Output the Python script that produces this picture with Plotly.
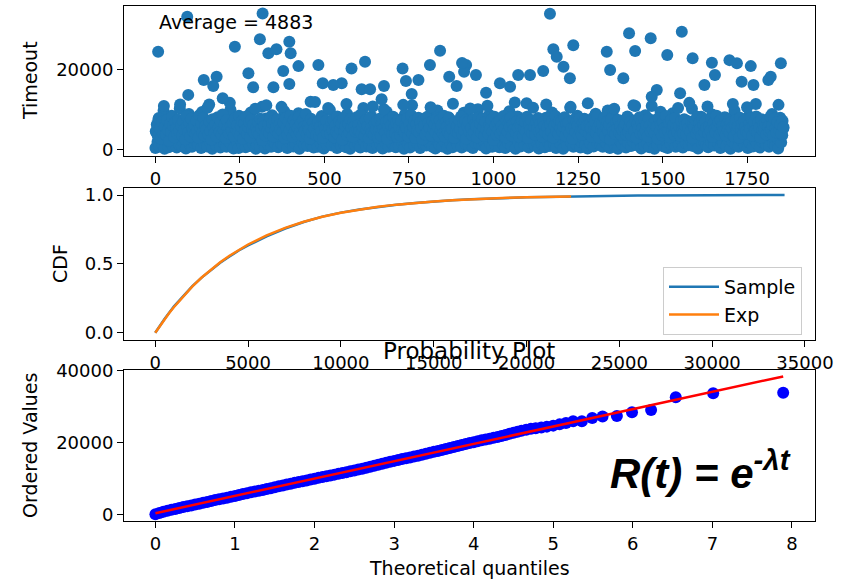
import plotly.graph_objects as go

# ---------------- data ----------------
# Top panel: timeout samples (dense band, in hundreds) at every 3rd index
dense_hundreds = [
    3, 42, 18, 75, 7, 27, 55, 12, 96, 1, 34, 63, 22, 5, 48, 15, 84, 9, 38, 26,
    61, 4, 29, 13, 102, 46, 8, 19, 71, 33, 2, 57, 24, 88, 11, 40, 6, 67, 16, 31,
    21, 79, 10, 52, 36, 3, 93, 25, 14, 44, 68, 7, 30, 112, 17, 50, 1, 39, 23, 58,
    9, 35, 74, 20, 4, 62, 28, 45, 13, 86, 6, 32, 53, 18, 99, 11, 41, 2, 65, 27,
    47, 15, 3, 81, 24, 37, 10, 59, 30, 5, 70, 19, 43, 8, 92, 26, 14, 54, 33, 1,
    12, 64, 22, 7, 49, 106, 17, 34, 2, 77, 28, 11, 56, 40, 6, 85, 21, 31, 15, 60,
    38, 5, 72, 25, 13, 51, 9, 95, 29, 42, 3, 66, 18, 35, 24, 80, 7, 46, 14, 57,
    26, 90, 1, 33, 61, 16, 44, 10, 73, 22, 8, 54, 37, 119, 12, 28, 4, 68, 20, 41,
    6, 48, 31, 14, 83, 23, 2, 63, 36, 11, 52, 19, 98, 27, 9, 39, 71, 15, 45, 3,
    58, 17, 25, 8, 76, 43, 13, 34, 5, 88, 21, 47, 1, 62, 30, 16, 55, 10, 37, 24,
    14, 69, 4, 40, 29, 103, 18, 50, 7, 32, 65, 12, 26, 82, 3, 44, 20, 59, 35, 9,
    53, 22, 11, 78, 2, 36, 47, 15, 94, 28, 6, 60, 19, 41, 13, 74, 31, 5, 50, 25,
    8, 39, 66, 17, 30, 1, 87, 23, 45, 12, 56, 4, 34, 110, 21, 10, 63, 27, 16, 42,
    33, 3, 57, 24, 13, 71, 38, 9, 49, 20, 84, 15, 29, 6, 61, 43, 2, 36, 97, 18,
    11, 46, 28, 7, 64, 19, 35, 54, 1, 80, 26, 14, 40, 5, 70, 32, 22, 51, 10, 37,
    62, 16, 4, 43, 91, 27, 12, 58, 33, 8, 48, 21, 75, 3, 38, 17, 55, 30, 100, 13,
    24, 52, 9, 35, 18, 67, 2, 41, 26, 86, 14, 31, 6, 59, 45, 11, 77, 20, 39, 5,
    44, 19, 72, 12, 29, 3, 53, 37, 15, 95, 23, 8, 65, 32, 47, 1, 27, 82, 16, 56,
    7, 34, 25, 60, 10, 42, 115, 21, 4, 50, 30, 14, 69, 38, 9, 57, 18, 44, 2, 28,
    66, 13, 40, 22, 5, 79, 31, 17, 48, 8, 36, 92, 24, 11, 55, 3, 43, 26, 73, 15,
    30, 54, 1, 37, 63, 20, 9, 46, 28, 104, 16, 33, 6, 61, 41, 12, 84, 23, 50, 4,
    18, 45, 27, 76, 11, 35, 2, 58, 22, 14, 70, 39, 7, 49, 89, 25, 15, 32, 64, 10,
    52, 6, 31, 19, 43, 13, 97, 26, 3, 62, 36, 17, 80, 9, 46, 29, 1, 55, 21, 38,
    12, 68, 24, 40, 4, 57, 15, 33, 75, 8, 51, 20, 44, 108, 27, 10, 35, 61, 18, 2,
    47, 23, 9, 85, 30, 14, 53, 5, 39, 66, 19, 28, 1, 73, 42, 11, 56, 25, 94, 16,
    34, 7, 60, 21, 48, 3, 78, 29, 13, 45, 90, 17, 38, 6, 52, 31, 12, 67, 24, 41,
    4, 55, 26, 15, 71, 36, 10, 49, 22, 101, 8, 32, 63, 18, 43, 2, 58, 27, 81, 14,
    39, 20, 65, 11, 30, 5, 54, 42, 17, 87, 25, 9, 47, 35, 74, 13, 28, 3, 60, 22,
    15, 50, 32, 8, 77, 24, 41, 1, 62, 19, 33, 96, 12, 53, 27, 6, 44, 69, 21, 37,
    58, 10, 29, 46, 3, 83, 16, 36, 55, 7, 40, 23, 113, 14, 51, 30, 4, 64, 19, 45,
    26, 72, 12, 38, 21, 6, 57, 33, 88, 15, 48, 9, 61, 28, 2, 43, 79, 17, 35, 52,
]
# second interleaved set of samples (in hundreds) at indices 1, 4, 7, ...
dense2_hundreds = [
    45, 62, 33, 78, 51, 27, 69, 40, 108, 56, 36, 73, 48, 21, 64, 43, 81, 58, 30, 67,
    52, 39, 74, 46, 112, 60, 35, 70, 49, 25, 83, 57, 41, 66, 32, 76, 53, 44, 61, 38,
    71, 47, 29, 85, 54, 65, 42, 79, 34, 59, 50, 104, 37, 68, 45, 24, 75, 56, 40, 63,
    31, 80, 55, 43, 69, 36, 87, 48, 62, 28, 73, 52, 39, 116, 58, 46, 66, 33, 77, 50,
    60, 42, 84, 35, 57, 71, 26, 64, 47, 82, 38, 55, 68, 30, 74, 49, 61, 41, 101, 53,
    44, 67, 37, 76, 52, 23, 70, 58, 34, 110, 46, 63, 40, 79, 51, 65, 32, 72, 48, 57,
    75, 39, 61, 50, 106, 43, 66, 28, 78, 54, 36, 69, 47, 84, 59, 31, 73, 45, 62, 38,
    53, 81, 42, 65, 34, 72, 56, 46, 88, 37, 60, 49, 27, 76, 41, 67, 52, 118, 35, 63,
    68, 33, 57, 45, 79, 29, 62, 51, 71, 40, 103, 55, 38, 66, 48, 74, 30, 59, 43, 82,
    37, 70, 50, 64, 24, 77, 46, 58, 113, 35, 63, 42, 75, 53, 32, 69, 57, 44, 80, 49,
    61, 45, 86, 39, 56, 67, 33, 73, 48, 59, 28, 78, 52, 41, 107, 36, 65, 50, 71, 30,
    47, 76, 34, 62, 51, 100, 42, 68, 26, 58, 72, 45, 60, 37, 81, 54, 40, 66, 31, 74,
    56, 35, 70, 48, 111, 43, 61, 53, 77, 32, 64, 47, 85, 39, 57, 72, 28, 63, 46, 79,
    42, 68, 52, 25, 74, 59, 37, 80, 45, 66, 54, 105, 34, 70, 49, 61, 41, 76, 55, 33,
    73, 48, 60, 39, 84, 31, 67, 56, 43, 78, 36, 62, 51, 114, 29, 69, 46, 58, 40, 71,
    50, 82, 38, 64, 47, 72, 27, 59, 69, 44, 102, 53, 35, 75, 42, 63, 57, 30, 79, 46,
    65, 41, 77, 55, 33, 68, 49, 109, 38, 61, 52, 74, 44, 23, 81, 58, 36, 67, 48, 71,
    39, 59, 46, 83, 53, 30, 72, 43, 65, 56, 79, 34, 63, 50, 117, 41, 70, 54, 32, 62,
    57, 74, 35, 51, 69, 45, 81, 28, 60, 48, 73, 40, 104, 55, 37, 66, 52, 78, 43, 64,
    49, 31, 68, 58, 42, 112, 54, 36, 76, 62, 45, 71, 29, 59, 83, 47, 64, 38, 72, 53,
    70, 44, 57, 80, 34, 63, 48, 67, 40, 106, 52, 26, 74, 56, 43, 69, 60, 35, 77, 46,
    36, 66, 51, 72, 45, 59, 115, 39, 62, 53, 31, 78, 47, 68, 41, 84, 55, 30, 65, 50,
    63, 42, 79, 33, 56, 70, 46, 61, 25, 75, 54, 44, 101, 38, 67, 52, 73, 41, 58, 36,
    48, 71, 55, 64, 37, 82, 43, 57, 69, 34, 60, 110, 46, 72, 29, 63, 51, 80, 39, 66,
    54, 38, 73, 47, 61, 32, 76, 59, 44, 108, 50, 65, 40, 70, 56, 27, 78, 45, 62, 35,
    68, 52, 41, 83, 57, 46, 66, 30, 74, 49, 60, 37, 79, 53, 43, 103, 58, 33, 71, 47,
    40, 75, 59, 36, 64, 51, 116, 44, 69, 28, 62, 55, 73, 39, 81, 48, 66, 52, 34, 77,
    61, 43, 70, 54, 107, 38, 58, 47, 76, 31, 65, 50, 42, 84, 56, 68, 36, 73, 45, 59,
    46, 80, 35, 62, 49, 72, 41, 67, 53, 113, 33, 60, 74, 44, 57, 29, 79, 51, 64, 38,
    72, 55, 45, 105, 39, 63, 52, 78, 34, 58, 69, 47, 82, 41, 66, 54, 30, 75, 49, 61,
    51, 64, 37, 73, 56, 44, 81, 48, 60, 35, 77, 53, 42, 68, 111, 46, 62, 39, 71, 55,
]
dense_index = list(range(0, 3 * len(dense_hundreds), 3))
dense2_index = list(range(1, 3 * len(dense2_hundreds), 3))
dense_values = [v * 100 for v in dense_hundreds]
dense2_values = [v * 100 for v in dense2_hundreds]

outlier_index = [94, 317, 8, 235, 309, 334, 358, 396, 400, 423,
                 378, 275, 289, 349, 396, 482, 495, 580, 620, 551,
                 526, 610, 635, 676, 143, 181, 171, 97, 199, 731,
                 741, 778, 812, 842, 869, 891, 919, 913, 948, 758,
                 669, 907, 978, 1019, 1073, 1108, 1147, 1167, 1177, 1187,
                 1207, 1236, 1226, 1335, 1345, 1384, 1401, 1419, 1465, 1514,
                 1557, 1589, 1646, 1655, 1698, 1720, 1761, 1820, 1850, 1734,
                 1769, 1813, 1624, 1552, 1483, 1468, 1049]
outlier_values = [33150, 34000, 24400, 25650, 27500, 24000, 25000, 26900, 24000, 20800,
                  19600, 19000, 15500, 15500, 16300, 21100, 16500, 20200, 21900, 16500,
                  16100, 15000, 15000, 15800, 17300, 18150, 15800, 13600, 12750, 20200,
                  17100, 17300, 21100, 24650, 18150, 15800, 21100, 19400, 18600, 13800,
                  12500, 21600, 14150, 16500, 18600, 18600, 19600, 33900, 25000, 23150,
                  20650, 26000, 17750, 24400, 19800, 17750, 29000, 24600, 27750, 23600,
                  29400, 22750, 21650, 18600, 22300, 21500, 20800, 18150, 21500, 16900,
                  16100, 17300, 16100, 14000, 14800, 13150, 15650]
average_label = "Average = 4883"

# Middle panel: CDFs
cdf_sample_x = [0, 250, 500, 1000, 1500, 2000, 2500, 3000, 3500, 4000, 4500, 5000, 5500,
                6000, 7000, 8000, 9000, 10000, 11000, 12000, 13000, 14000, 15000, 16000,
                17000, 18000, 19000, 20000, 21000, 22000, 23000, 24000, 25000, 26000,
                27000, 28000, 29000, 30000, 31000, 32000, 33000, 33900]
cdf_sample_y = [0.0, 0.05, 0.10, 0.19, 0.268, 0.338, 0.40, 0.456, 0.508, 0.553, 0.597,
                0.634, 0.668, 0.700, 0.757, 0.804, 0.843, 0.872, 0.895, 0.914, 0.929,
                0.942, 0.953, 0.962, 0.969, 0.975, 0.979, 0.983, 0.986, 0.989, 0.991,
                0.993, 0.995, 0.996, 0.997, 0.997, 0.998, 0.998, 0.999, 0.999, 0.9995, 1.0]
cdf_exp_x = [0, 250, 500, 750, 1000, 1500, 2000, 2500, 3000, 3500, 4000, 4500, 5000,
             6000, 7000, 8000, 9000, 10000, 11000, 12000, 13000, 14000, 15000, 16000,
             17000, 18000, 19000, 20000, 21000, 22400]
cdf_exp_y = [0.0, 0.0499, 0.0973, 0.1424, 0.1851, 0.2645, 0.3361, 0.4007, 0.4590, 0.5117,
             0.5592, 0.6021, 0.6408, 0.7073, 0.7616, 0.8057, 0.8417, 0.8710, 0.8949,
             0.9143, 0.9302, 0.9431, 0.9536, 0.9622, 0.9692, 0.9749, 0.9796, 0.9834,
             0.9864, 0.9898]

# Bottom panel: probability plot
qq_theoretical = [0.00, 0.05, 0.10, 0.15, 0.20, 0.25, 0.30, 0.35, 0.40, 0.45,
                  0.50, 0.55, 0.60, 0.65, 0.70, 0.75, 0.80, 0.85, 0.90, 0.95,
                  1.00, 1.05, 1.10, 1.15, 1.20, 1.25, 1.30, 1.35, 1.40, 1.45,
                  1.50, 1.55, 1.60, 1.65, 1.70, 1.75, 1.80, 1.85, 1.90, 1.95,
                  2.00, 2.05, 2.10, 2.15, 2.20, 2.25, 2.30, 2.35, 2.40, 2.45,
                  2.50, 2.55, 2.60, 2.65, 2.70, 2.75, 2.80, 2.85, 2.90, 2.95,
                  3.00, 3.05, 3.10, 3.15, 3.20, 3.25, 3.30, 3.35, 3.40, 3.45,
                  3.50, 3.55, 3.60, 3.65, 3.70, 3.75, 3.80, 3.85, 3.90, 3.95,
                  4.00, 4.05, 4.10, 4.15, 4.20, 4.25, 4.30, 4.35, 4.40, 4.45,
                  4.50, 4.55, 4.60, 4.66, 4.72, 4.78, 4.85, 4.92, 5.00, 5.08,
                  5.16, 5.25, 5.36, 5.49, 5.62, 5.80, 5.99, 6.23, 6.54, 7.01, 7.89]
qq_ordered = [5, 390, 700, 985, 1270, 1500, 1760, 2000, 2250, 2480,
              2700, 2940, 3190, 3450, 3700, 3950, 4180, 4400, 4630, 4870,
              5120, 5380, 5640, 5890, 6120, 6350, 6570, 6800, 7030, 7270,
              7520, 7780, 8040, 8290, 8530, 8760, 8990, 9210, 9440, 9680,
              9930, 10180, 10400, 10620, 10830, 11050, 11270, 11500, 11740, 11980,
              12220, 12470, 12720, 12980, 13250, 13520, 13800, 14080, 14350, 14620,
              14880, 15130, 15370, 15600, 15830, 16070, 16330, 16600, 16870, 17140,
              17400, 17660, 17920, 18180, 18450, 18720, 19000, 19280, 19560, 19830,
              20100, 20350, 20600, 20830, 21060, 21300, 21550, 21830, 22120, 22420,
              22700, 22980, 23260, 23550, 23800, 24000, 24200, 24420, 24700, 25050,
              25400, 25900, 25950, 26800, 27250, 27400, 28400, 29050, 32600, 33750, 33870]
fit_q = [0.0, 7.89]
fit_values = [300, 38410]

top_xticks = [0, 250, 500, 750, 1000, 1250, 1500, 1750]
top_yticks = [0, 20000]
mid_xticks = [0, 5000, 10000, 15000, 20000, 25000, 30000, 35000]
mid_yticks = [0.0, 0.5, 1.0]
mid_yticklabels = ["0.0", "0.5", "1.0"]
bot_xticks = [0, 1, 2, 3, 4, 5, 6, 7, 8]
bot_yticks = [0, 20000, 40000]

# ---------------- figure ----------------
W, H = 841, 582
def px_x(p):
    return p / W
def px_y(p):
    return 1 - p / H

xdom = [px_x(124), px_x(815)]
top_dom = [px_y(156), px_y(6)]
mid_dom = [px_y(340), px_y(188)]
bot_dom = [px_y(521), px_y(370)]

fig = go.Figure()
fig.add_trace(go.Scatter(x=dense_index + dense2_index + outlier_index,
                         y=dense_values + dense2_values + outlier_values,
                         mode="markers", marker=dict(color="#1f77b4", size=12, line=dict(width=0)),
                         showlegend=False, xaxis="x", yaxis="y"))
fig.add_trace(go.Scatter(x=cdf_sample_x, y=cdf_sample_y, mode="lines", name="Sample",
                         line=dict(color="#1f77b4", width=2.5), xaxis="x2", yaxis="y2"))
fig.add_trace(go.Scatter(x=cdf_exp_x, y=cdf_exp_y, mode="lines", name="Exp",
                         line=dict(color="#ff7f0e", width=2.5), xaxis="x2", yaxis="y2"))
fig.add_trace(go.Scatter(x=qq_theoretical, y=qq_ordered, mode="markers",
                         marker=dict(color="#0000ff", size=12, line=dict(width=0)),
                         showlegend=False, xaxis="x3", yaxis="y3"))
fig.add_trace(go.Scatter(x=fit_q, y=fit_values, mode="lines",
                         line=dict(color="#ff0000", width=2.5),
                         showlegend=False, xaxis="x3", yaxis="y3"))

axis_common = dict(showline=True, mirror=True, linecolor="black", linewidth=1,
                   ticks="outside", ticklen=6, tickwidth=1, tickcolor="black",
                   showgrid=False, zeroline=False, automargin=False,
                   tickfont=dict(size=18, color="black"))

def labels(vals):
    return [str(v) for v in vals]

fig.update_layout(
    width=W, height=H, margin=dict(l=0, r=0, t=0, b=0, autoexpand=False),
    paper_bgcolor="white", plot_bgcolor="white",
    font=dict(family="DejaVu Sans", size=18, color="black"),
    xaxis=dict(domain=xdom, anchor="y", range=[-93, 1951], tickvals=top_xticks,
               ticktext=labels(top_xticks), **axis_common),
    yaxis=dict(domain=top_dom, anchor="x", range=[-1700, 35850], tickvals=top_yticks,
               ticktext=labels(top_yticks), **axis_common),
    xaxis2=dict(domain=xdom, anchor="y2", range=[-1683, 35540], tickvals=mid_xticks,
                ticktext=labels(mid_xticks), **axis_common),
    yaxis2=dict(domain=mid_dom, anchor="x2", range=[-0.053, 1.051], tickvals=mid_yticks,
                ticktext=mid_yticklabels, **axis_common),
    xaxis3=dict(domain=xdom, anchor="y3", range=[-0.395, 8.29], tickvals=bot_xticks,
                ticktext=labels(bot_xticks), **axis_common),
    yaxis3=dict(domain=bot_dom, anchor="x3", range=[-1866, 40195], tickvals=bot_yticks,
                ticktext=labels(bot_yticks), **axis_common),
    legend=dict(x=px_x(663), y=px_y(267), xanchor="left", yanchor="top",
                bgcolor="rgba(255,255,255,0.8)", bordercolor="#cccccc", borderwidth=1,
                font=dict(size=19, color="black"), itemwidth=50),
)

ann = [
    dict(text=average_label, x=px_x(157), y=px_y(22), xanchor="left", yanchor="middle", font=dict(size=19)),
    dict(text="Timeout", x=px_x(30), y=px_y(81), textangle=-90, xanchor="center", yanchor="middle", font=dict(size=19)),
    dict(text="CDF", x=px_x(60), y=px_y(264), textangle=-90, xanchor="center", yanchor="middle", font=dict(size=19)),
    dict(text="Ordered Values", x=px_x(30), y=px_y(446), textangle=-90, xanchor="center", yanchor="middle", font=dict(size=19)),
    dict(text="Theoretical quantiles", x=px_x(469), y=px_y(568), xanchor="center", yanchor="middle", font=dict(size=19)),
    dict(text="Probability Plot", x=px_x(469), y=px_y(351), xanchor="center", yanchor="middle", font=dict(size=23)),
    dict(text="<b><i>R(t) = e<sup>-λt</sup></i></b>", x=px_x(700), y=px_y(470), xanchor="center", yanchor="middle",
         font=dict(family="Liberation Sans", size=42, color="black")),
]
for a in ann:
    a.update(xref="paper", yref="paper", showarrow=False)
fig.update_layout(annotations=ann)

fig.write_html("out.html", config={"displayModeBar": False},
               post_script="document.body.style.margin='0';document.body.style.overflow='hidden';")
